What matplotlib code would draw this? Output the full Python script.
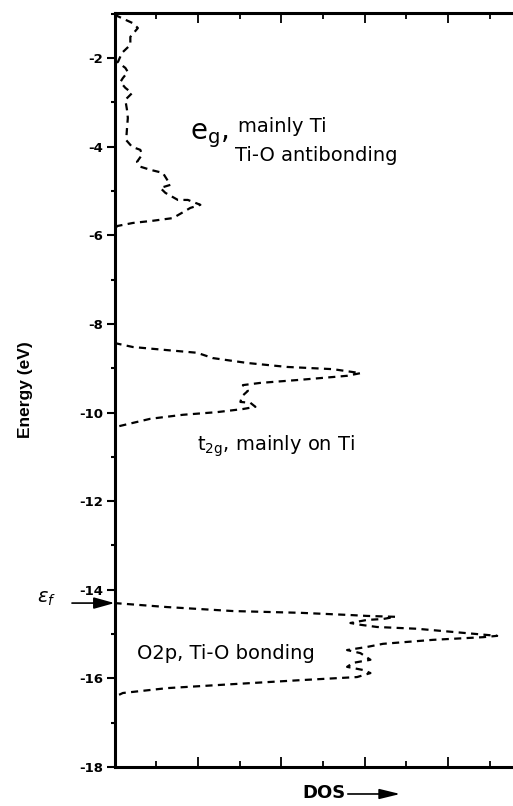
import matplotlib.pyplot as plt
from matplotlib.ticker import MultipleLocator
import numpy as np

# e_g band (mainly Ti, Ti-O antibonding)
eg_dos = [0.0, 0.22, 0.28, 0.19, 0.19, 0.09, 0.04, 0.13, 0.16, 0.10, 0.07, 0.13,
          0.21, 0.13, 0.15, 0.16, 0.15, 0.14, 0.21, 0.31, 0.33, 0.27, 0.31, 0.43,
          0.58, 0.67, 0.55, 0.61, 0.76, 0.88, 1.03, 0.91, 0.81, 0.70, 0.46, 0.22,
          0.03, 0.0]
eg_energy = [-1.02, -1.21, -1.32, -1.52, -1.70, -1.88, -2.09, -2.22, -2.31, -2.45,
             -2.54, -2.67, -2.79, -2.94, -3.17, -3.35, -3.58, -3.85, -4.00, -4.07,
             -4.18, -4.34, -4.45, -4.52, -4.59, -4.86, -4.93, -5.04, -5.20, -5.20,
             -5.31, -5.38, -5.49, -5.61, -5.67, -5.72, -5.79, -5.88]

# t2g band
t2g_dos = [0.0, 0.22, 0.63, 0.99, 1.18, 1.59, 2.07, 2.62, 2.95, 2.79, 2.23, 1.75,
           1.54, 1.60, 1.53, 1.51, 1.63, 1.69, 1.54, 1.23, 0.82, 0.43, 0.07, 0.0]
t2g_energy = [-8.43, -8.52, -8.59, -8.65, -8.77, -8.88, -8.97, -9.02, -9.11, -9.17,
              -9.26, -9.33, -9.38, -9.51, -9.63, -9.76, -9.78, -9.87, -9.92, -9.99,
              -10.05, -10.14, -10.30, -10.33]

# O 2p band (Ti-O bonding)
o2p_dos = [0.0, 0.63, 1.42, 2.23, 2.83, 3.03, 3.37, 3.22, 3.03, 2.83, 2.95, 3.15,
           3.63, 4.23, 4.59, 4.42, 3.82, 3.22, 3.03, 2.79, 2.95, 3.07, 2.86, 2.79,
           2.98, 3.07, 2.91, 2.23, 1.42, 0.63, 0.10, 0.0]
o2p_energy = [-14.30, -14.39, -14.48, -14.52, -14.57, -14.59, -14.61, -14.66, -14.68,
              -14.75, -14.79, -14.84, -14.88, -14.98, -15.04, -15.07, -15.13, -15.22,
              -15.29, -15.36, -15.43, -15.58, -15.65, -15.74, -15.81, -15.88, -15.97,
              -16.04, -16.13, -16.22, -16.33, -16.42]

e_fermi = -14.30
y_ticks = [-2, -4, -6, -8, -10, -12, -14, -16, -18]

fig = plt.figure(figsize=(5.13, 8.06), dpi=100)
ax = fig.add_axes([0.2232, 0.0484, 0.7768, 0.9355])

dash = (0, (3.2, 2.4))
for d, e in [(eg_dos, eg_energy), (t2g_dos, t2g_energy), (o2p_dos, o2p_energy)]:
    ax.plot(d, e, color='black', lw=1.6, linestyle=dash)

ax.set_xlim(0, 4.78)
ax.set_ylim(-18, -0.98)

for s in ['left', 'bottom', 'top']:
    ax.spines[s].set_linewidth(2.2)
ax.spines['right'].set_visible(False)

ax.set_yticks(y_ticks)
ax.set_yticklabels([str(t) for t in y_ticks], fontweight='bold', fontsize=9.5)
ax.yaxis.set_minor_locator(MultipleLocator(1))
ax.xaxis.set_major_locator(MultipleLocator(1))
ax.xaxis.set_minor_locator(MultipleLocator(0.5))
ax.set_xticklabels([])
ax.tick_params(axis='y', which='major', direction='out', length=6, width=1.5, pad=2)
ax.tick_params(axis='y', which='minor', direction='out', length=3, width=1.5)
ax.tick_params(axis='x', which='major', direction='in', length=7, width=1.3, top=True)
ax.tick_params(axis='x', which='minor', direction='in', length=4, width=1.3, top=True)

ax.set_ylabel('Energy (eV)', fontweight='bold', fontsize=12.5,
              family='Liberation Sans')
ax.yaxis.set_label_coords(-0.205, 0.5)

# band labels
lab = dict(fontsize=14, va='center', ha='left', color='black')
ax.text(0.90, -3.74, r'e$_\mathregular{g}$,', fontsize=20, va='center', ha='left')
ax.text(1.48, -3.55, 'mainly Ti', **lab)
ax.text(1.45, -4.19, 'Ti-O antibonding', **lab)
ax.text(0.99, -10.76, r't$_\mathregular{2g}$, mainly on Ti', **lab)
ax.text(0.27, -15.43, 'O2p, Ti-O bonding', **lab)

# Fermi level marker
ax.annotate('', xy=(0, e_fermi), xytext=(-0.51, e_fermi),
            arrowprops=dict(arrowstyle='-|>,head_length=0.9,head_width=0.25',
                            color='black', lw=1.2, mutation_scale=14,
                            shrinkA=0, shrinkB=0),
            annotation_clip=False)
ax.text(-0.81, -14.19, r'$\epsilon_f$', fontsize=14, ha='center', va='center')

# DOS axis caption with arrow
fig.text(0.631, 0.016, 'DOS', fontweight='bold', fontsize=13, ha='center',
         va='center')
fig.add_artist(plt.Annotation('', xy=(0.780, 0.0149), xytext=(0.678, 0.0149),
                              xycoords='figure fraction',
                              arrowprops=dict(arrowstyle='-|>,head_length=0.9,head_width=0.22',
                                              color='black', lw=1.2,
                                              mutation_scale=14,
                                              shrinkA=0, shrinkB=0)))

fig.savefig('out.png', dpi=100)
